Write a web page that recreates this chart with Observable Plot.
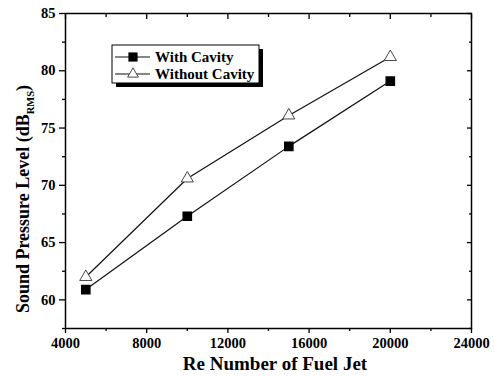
<!DOCTYPE html>
<html><head><meta charset="utf-8">
<script src="https://cdn.jsdelivr.net/npm/d3@7"></script>
<script src="https://cdn.jsdelivr.net/npm/@observablehq/plot@0.6"></script>
<style>body{margin:0;background:#fff}</style>
</head><body><div id="chart"></div><script>
const reynolds = [5000, 10000, 15000, 20000];
const withCavity = [60.9, 67.3, 73.4, 79.1];
const withoutCavity = [62.0, 70.6, 76.1, 81.2];
const seriesNames = ["With Cavity", "Without Cavity"];
const xTicks = [4000, 8000, 12000, 16000, 20000, 24000];
const xMinor = [6000, 10000, 14000, 18000, 22000];
const yTicks = [60, 65, 70, 75, 80, 85];
const yMinor = [57.5, 62.5, 67.5, 72.5, 77.5, 82.5];

const dataWith = reynolds.map((x, i) => ({x, y: withCavity[i]}));
const dataWithout = reynolds.map((x, i) => ({x, y: withoutCavity[i]}));

const FONT = "Liberation Serif";
const ml = 65, mr = 23, mt = 13, mb = 48;
const plot = Plot.plot({
  width: 494, height: 376,
  marginLeft: ml, marginRight: mr, marginTop: mt, marginBottom: mb,
  style: {fontFamily: FONT, fontSize: "14.5px", fontWeight: "bold", background: "#fff", color: "#000"},
  x: {domain: [4000, 24000]},
  y: {domain: [57.5, 85]},
  marks: [
    Plot.axisX({anchor: "bottom", ticks: xTicks, tickSize: 5, tickPadding: 4, tickFormat: d => String(d), label: null, strokeWidth: 1.3, fontWeight: "bold"}),
    Plot.axisX({anchor: "bottom", ticks: xMinor, tickSize: 3, text: null, label: null, strokeWidth: 1.3}),
    Plot.axisX({anchor: "top", ticks: xTicks, tickSize: -5, text: null, label: null, strokeWidth: 1.3}),
    Plot.axisX({anchor: "top", ticks: xMinor, tickSize: -3, text: null, label: null, strokeWidth: 1.3}),
    Plot.axisY({anchor: "left", ticks: yTicks, tickSize: 6, tickPadding: 4, label: null, strokeWidth: 1.3, fontWeight: "bold"}),
    Plot.axisY({anchor: "left", ticks: yMinor, tickSize: 3, text: null, label: null, strokeWidth: 1.3}),
    Plot.axisY({anchor: "right", ticks: yTicks, tickSize: -5, text: null, label: null, strokeWidth: 1.3}),
    Plot.axisY({anchor: "right", ticks: yMinor, tickSize: -3, text: null, label: null, strokeWidth: 1.3}),
    Plot.frame({stroke: "#000", strokeWidth: 1.5}),
    Plot.line(dataWithout, {x: "x", y: "y", stroke: "#111", strokeWidth: 1.2}),
    Plot.line(dataWith, {x: "x", y: "y", stroke: "#111", strokeWidth: 1.2}),
    Plot.dot(dataWithout, {x: "x", y: "y", symbol: "triangle", r: 4.5, fill: "#fff", stroke: "#333", strokeWidth: 0.9}),
    Plot.dot(dataWith, {x: "x", y: "y", symbol: "square", r: 4.6, fill: "#000", stroke: "#000"})
  ]
});
document.getElementById("chart").appendChild(plot);

const svg = d3.select(plot);
// axis titles
svg.append("text").attr("x", 275).attr("y", 370)
  .attr("text-anchor", "middle").style("font-size", "19px").style("font-weight", "bold")
  .text("Re Number of Fuel Jet");
const yl = svg.append("text").attr("transform", `translate(29,199) rotate(-90)`)
  .attr("text-anchor", "middle").style("font-size", "18px").style("font-weight", "bold");
yl.append("tspan").text("Sound Pressure Level (dB");
yl.append("tspan").attr("dy", 5).style("font-size", "10.5px").text("RMS");
yl.append("tspan").attr("dy", -5).text(")");

// legend
const lx = 112, ly = 45, lw = 147, lh = 38;
const lg = svg.append("g").attr("text-anchor", "start");
lg.append("rect").attr("x", lx + 4).attr("y", ly + 4).attr("width", lw).attr("height", lh).attr("fill", "#000");
lg.append("rect").attr("x", lx).attr("y", ly).attr("width", lw).attr("height", lh).attr("fill", "#fff").attr("stroke", "#000").attr("stroke-width", 1);
const rows = [ly + 12, ly + 29];
seriesNames.forEach((name, i) => {
  const cy = rows[i];
  lg.append("line").attr("x1", lx + 3).attr("x2", lx + 38).attr("y1", cy).attr("y2", cy).attr("stroke", "#111").attr("stroke-width", 1.2);
  if (i === 0) {
    lg.append("rect").attr("x", lx + 21 - 4.6).attr("y", cy - 4.6).attr("width", 9.2).attr("height", 9.2).attr("fill", "#000");
  } else {
    lg.append("path").attr("transform", `translate(${lx + 21},${cy})`)
      .attr("d", d3.symbol(d3.symbolTriangle, 50)()).attr("fill", "#fff").attr("stroke", "#333").attr("stroke-width", 0.9);
  }
  lg.append("text").attr("x", lx + 43).attr("y", cy).attr("dy", "0.35em").attr("text-anchor", "start")
    .style("font-size", "15px").style("font-weight", "bold").text(name);
});
svg.selectAll("text").attr("font-family", FONT).style("font-family", FONT);
svg.style("font-family", FONT);
</script></body></html>
